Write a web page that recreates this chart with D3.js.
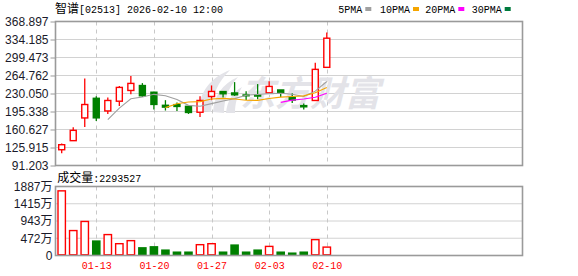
<!DOCTYPE html>
<html><head><meta charset="utf-8">
<script src="https://cdn.jsdelivr.net/npm/d3@7/dist/d3.min.js"></script>
<style>
body{margin:0;background:#fff}
svg{display:block}
.mono{font-family:"Liberation Mono","DejaVu Sans Mono",monospace;font-size:10px}
.cjk{font-family:"Noto Sans CJK SC",sans-serif;font-size:12px}
</style>
</head><body>
<svg id="c" width="578" height="276"></svg>
<script>
// ---- data ----
const dates = ["01-08","01-09","01-12","01-13","01-14","01-15","01-16","01-19","01-20","01-21","01-22","01-23",
               "01-26","01-27","01-28","01-29","01-30","02-02","02-03","02-04","02-05","02-06","02-09","02-10"];
const open  = [121.6,139.1,182.9,221.0,196.4,215.2,235.9,245.6,232.7,207.5,208.8,205.5,
               193.9,224.3,234.0,231.3,227.4,227.4,231.3,237.1,222.9,206.9,216.6,280.5];
const high  = [133.5,164.8,259.2,224.9,222.4,244.3,263.7,250.1,233.5,217.2,212.7,206.0,
               224.9,245.6,234.5,252.0,234.6,248.2,253.9,237.5,230.7,210.8,289.4,347.6];
const low   = [115.0,139.1,165.4,177.0,190.6,206.1,228.8,223.5,199.1,197.2,196.4,190.6,
               184.8,217.2,222.4,225.5,217.7,218.9,231.3,223.5,211.9,199.1,216.6,280.5];
const close = [131.3,159.0,208.8,182.9,216.6,241.8,249.5,225.5,208.8,203.6,204.9,193.3,
               216.6,234.0,229.4,227.4,225.5,224.9,243.7,231.3,217.2,204.2,276.6,336.7];
const volumeWan = [1768,682,931,414,572,323,406,229,257,166,110,110,
                   296,323,110,304,110,166,249,110,83,110,434,229.35];
const priceTickLabels = ["368.897","334.185","299.473","264.762","230.050","195.338","160.627","125.915","91.203"];
const volTicks = [0,472,943,1415,1887];
const volTickLabels = ["0","472万","943万","1415万","1887万"];
const dateTicks = ["01-13","01-20","01-27","02-03","02-10"];
const maPeriods = [5,10,20,30];
const maNames = ["5PMA","10PMA","20PMA","30PMA"];
const maColors = ["#a0a0a0","#f5a500","#ff00ff","#007a3d"];
const title = ["智谱","[02513] 2026-02-10 12:00"];
const volTitle = ["成交量",":2293527"];

// ---- layout ----
const L = 55.5, R = 522.5;
const pTop = 21.5, pBot = 165.5;
const vTop = 186.5, vBot = 255.5;
const RED = "#ff0000", GREEN = "#008000";

const svg = d3.select("#c");
const n = dates.length;
const x = d3.scaleLinear().domain([0, n - 1]).range([61.7, 326.8]);
const pv = priceTickLabels.map(Number);
const y = d3.scaleLinear().domain([d3.min(pv), d3.max(pv)]).range([pBot, pTop]);
const yv = d3.scaleLinear().domain([0, d3.max(volTicks)]).range([vBot, vTop]);

// grids
const g = svg.append("g");
g.selectAll(".hp").data(pv.slice(1, -1)).join("line")
  .attr("x1", L).attr("x2", R).attr("y1", d => y(d)).attr("y2", d => y(d))
  .attr("stroke", "#d2d2d2").attr("stroke-width", 1);
g.selectAll(".hv").data(volTicks.slice(1, -1)).join("line")
  .attr("x1", L).attr("x2", R).attr("y1", d => yv(d)).attr("y2", d => yv(d))
  .attr("stroke", "#d2d2d2").attr("stroke-width", 1);
const dateIdx = dateTicks.map(d => dates.indexOf(d));
[[pTop, pBot], [vTop, vBot]].forEach(([a, b]) => {
  g.selectAll(null).data(dateIdx).join("line")
    .attr("x1", d => Math.round(x(d)) + 0.5).attr("x2", d => Math.round(x(d)) + 0.5)
    .attr("y1", a).attr("y2", b)
    .attr("stroke", "#c8c8c8").attr("stroke-dasharray", "4,4");
});

// watermark
const wm = svg.append("g").attr("fill", "#e3e3e8");
wm.append("path").attr("d", "M199,110 C200,92 210,78 230,70 C218,82 212,95 211,112 Z");
wm.append("path").attr("d", "M213,112 C214,96 222,84 238,77 C228,88 224,100 224,113 Z");
wm.append("path").attr("d", "M226,113 C227,101 233,92 242,87 C237,96 235,104 235,113 Z");
wm.append("text").attr("x", 240).attr("y", 106)
  .attr("font-family", "Noto Sans CJK SC").attr("font-weight", "bold")
  .attr("font-size", 35).attr("font-style", "italic").text("东方财富");

// candles
const cg = svg.append("g");
d3.range(n).forEach(i => {
  const up = close[i] >= open[i];
  const cx = x(i);
  const top = y(Math.max(open[i], close[i]));
  const bot = y(Math.min(open[i], close[i]));
  const col = up ? RED : GREEN;
  cg.append("line").attr("x1", cx).attr("x2", cx).attr("y1", y(high[i])).attr("y2", top)
    .attr("stroke", col).attr("stroke-width", 1.3);
  cg.append("line").attr("x1", cx).attr("x2", cx).attr("y1", bot).attr("y2", y(low[i]))
    .attr("stroke", col).attr("stroke-width", 1.3);
  if (up) {
    cg.append("rect").attr("x", cx - 3).attr("width", 6).attr("y", top)
      .attr("height", Math.max(bot - top, 1)).attr("fill", "#fff")
      .attr("stroke", RED).attr("stroke-width", 1.4);
  } else {
    cg.append("rect").attr("x", cx - 3.7).attr("width", 7.4).attr("y", top - 0.6)
      .attr("height", Math.max(bot - top + 1.2, 1.5)).attr("fill", GREEN);
  }
});

// volume bars
const vg = svg.append("g");
d3.range(n).forEach(i => {
  const up = close[i] >= open[i];
  const cx = x(i);
  const t = yv(volumeWan[i]);
  if (up) {
    vg.append("rect").attr("x", cx - 3.7).attr("width", 7.4).attr("y", t)
      .attr("height", vBot - t - 0.7).attr("fill", "#fff")
      .attr("stroke", RED).attr("stroke-width", 1.4);
  } else {
    vg.append("rect").attr("x", cx - 4.3).attr("width", 8.6).attr("y", t)
      .attr("height", vBot - t).attr("fill", GREEN);
  }
});

// moving averages
maPeriods.forEach((p, k) => {
  const pts = d3.range(n).filter(i => i >= p - 1)
    .map(i => [i, d3.mean(close.slice(i - p + 1, i + 1))]);
  if (pts.length < 2) return;
  svg.append("path").datum(pts)
    .attr("d", d3.line().x(d => x(d[0])).y(d => y(d[1])))
    .attr("fill", "none").attr("stroke", maColors[k]).attr("stroke-width", 1.1);
});

// frames
[[pTop, pBot], [vTop, vBot]].forEach(([a, b]) => {
  svg.append("rect").attr("x", L).attr("y", a).attr("width", R - L).attr("height", b - a)
    .attr("fill", "none").attr("stroke", "#9a9a9a").attr("stroke-width", 1.6);
});

// price axis
const ay = svg.append("g").attr("transform", `translate(${L},0)`)
  .call(d3.axisLeft(y).tickValues(pv).tickFormat((d, i) => priceTickLabels[i]).tickSize(5).tickPadding(2));
ay.select(".domain").remove();
ay.selectAll("line").attr("stroke", "#9a9a9a");
ay.selectAll("text").attr("font-family", "Liberation Sans, Arial, sans-serif").attr("font-size", 12).attr("fill", "#1a1a2a");

// volume axis
const av = svg.append("g").attr("transform", `translate(${L},0)`)
  .call(d3.axisLeft(yv).tickValues(volTicks).tickFormat((d, i) => volTickLabels[i]).tickSize(0).tickPadding(3));
av.select(".domain").remove();
av.selectAll("text").attr("font-family", "Liberation Sans, Noto Sans CJK SC, sans-serif").attr("font-size", 12).attr("fill", "#1a1a2a");

// date axis
const ax = svg.append("g").attr("transform", `translate(0,${vBot})`)
  .call(d3.axisBottom(x).tickValues(dateIdx).tickFormat(i => dates[i]).tickSize(0).tickPadding(0));
ax.select(".domain").remove();
ax.selectAll("text").attr("class", "mono").attr("fill", RED).attr("dy", null).attr("y", 13.8);

// title
const tt = svg.append("text").attr("x", 55).attr("y", 12.5).attr("fill", "#000");
tt.append("tspan").attr("class", "cjk").text(title[0]);
tt.append("tspan").attr("class", "mono").attr("font-size", 10).text(title[1]);

// volume title
const vt = svg.append("text").attr("x", 57.3).attr("y", 181.5).attr("fill", "#000");
vt.append("tspan").attr("class", "cjk").text(volTitle[0]);
vt.append("tspan").attr("class", "mono").text(volTitle[1]);

// legend
const legX = [338.3, 380, 425.3, 471.7];
maNames.forEach((nm, k) => {
  const t = svg.append("text").attr("class", "mono").attr("x", legX[k]).attr("y", 12.5).attr("fill", "#000").text(nm);
  svg.append("rect").attr("x", legX[k] + nm.length * 6 + 3).attr("y", 7).attr("width", 6).attr("height", 4)
    .attr("fill", maColors[k]);
});
</script>
</body></html>
